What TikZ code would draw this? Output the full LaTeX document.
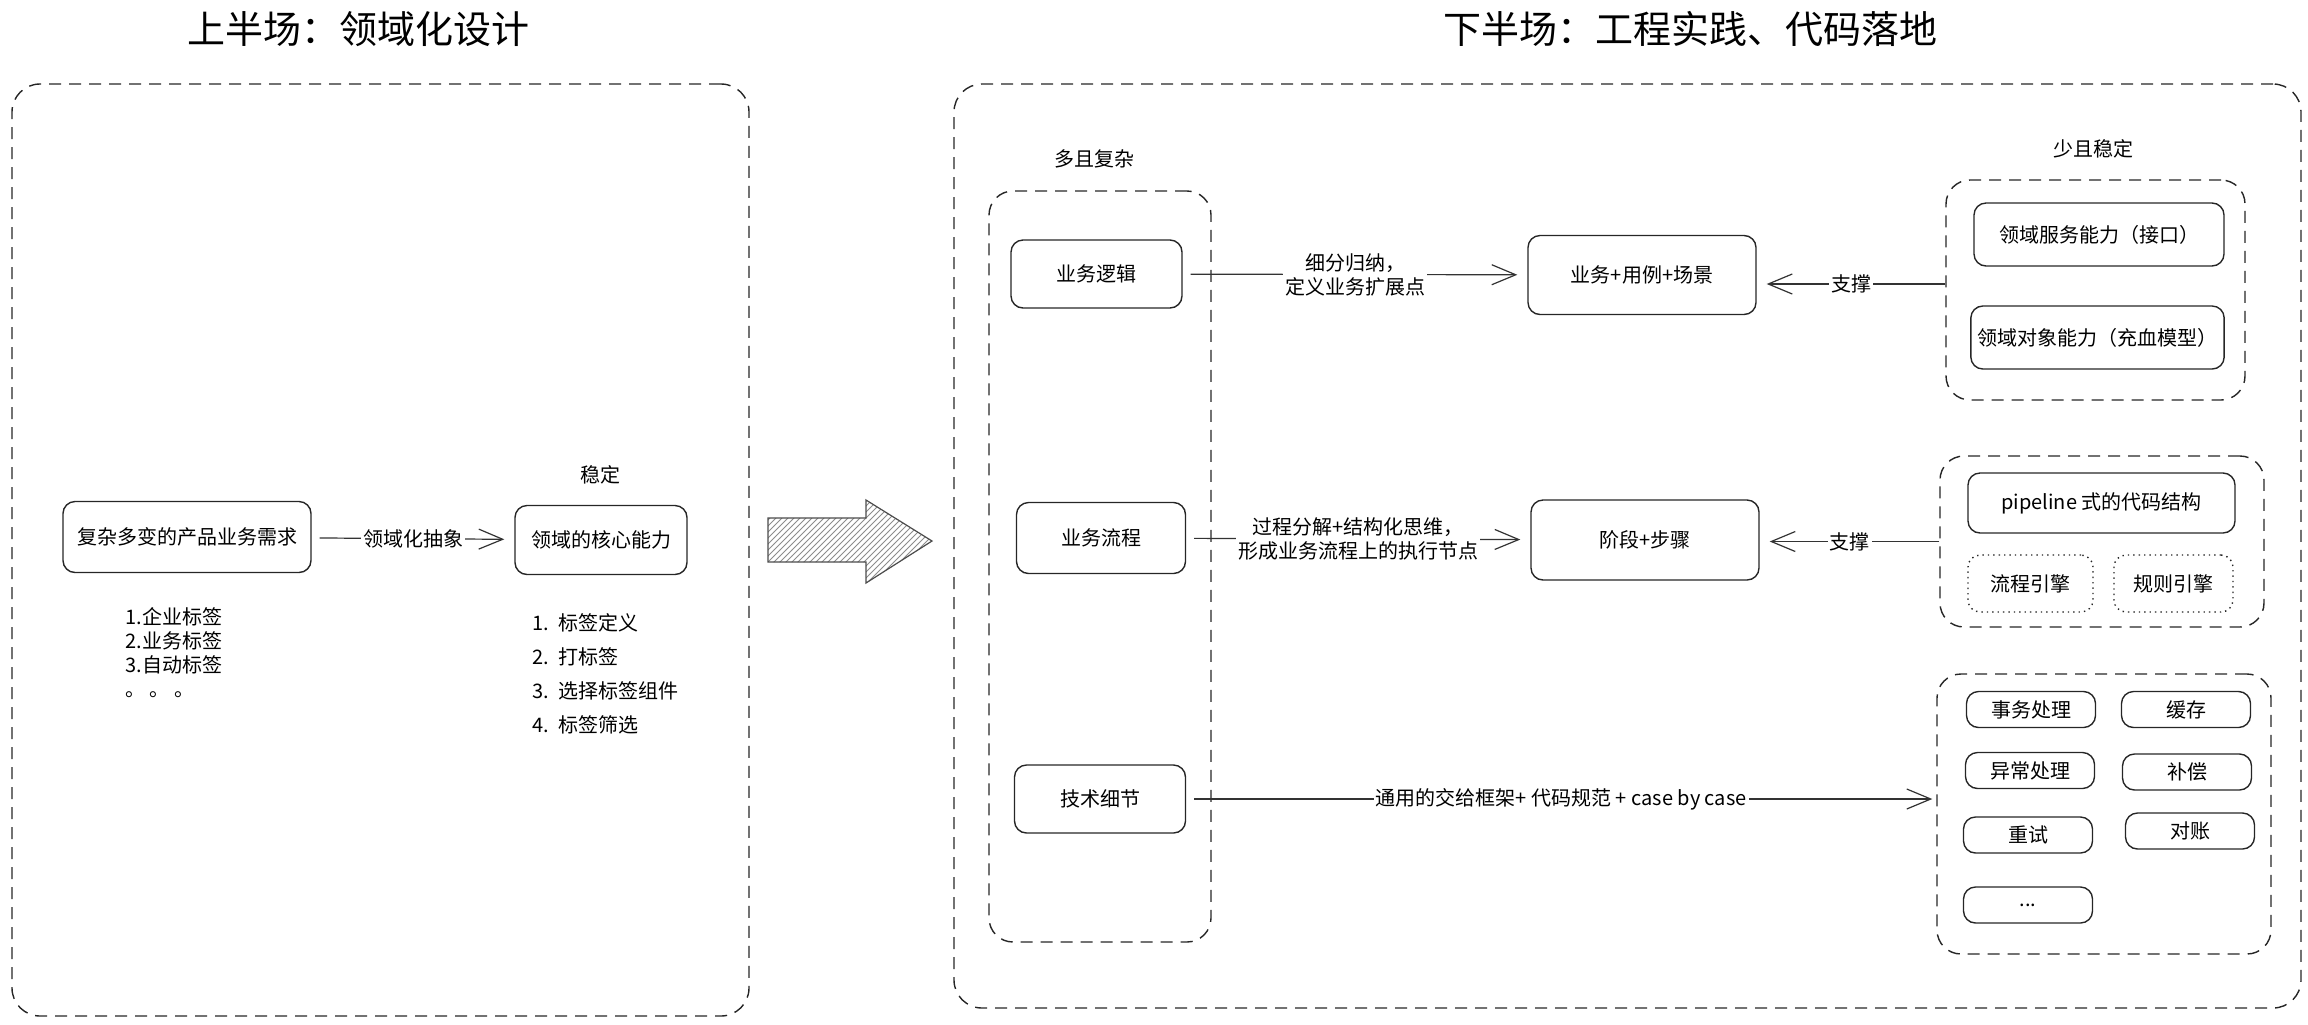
\documentclass[tikz,border=0pt]{standalone}
\usepackage{fontspec}
\setmainfont{Noto Sans CJK SC}
\usetikzlibrary{arrows.meta,patterns}
\tikzset{
  box/.style={draw=black!85, line width=0.7pt, rounded corners=6pt, align=center, font=\fontsize{10}{12}\selectfont},
  dotbox/.style={box, dotted},
  group/.style={draw=black!85, line width=0.7pt, dash pattern=on 6pt off 4pt, rounded corners=12pt},
  flow/.style={draw=black!80, line width=0.6pt, -{Straight Barb[length=12pt,width=10pt]}, shorten <=4pt, shorten >=5pt},
  lbl/.style={fill=white, inner sep=1pt, align=center, font=\fontsize{10}{12}\selectfont},
  tag/.style={font=\fontsize{10}{12}\selectfont},
  title/.style={font=\fontsize{19}{22}\selectfont}
}
\begin{document}
\begin{tikzpicture}[x=0.5pt, y=-0.5pt]
		\useasboundingbox (0,0) rectangle (2308,1024);
		% titles
		\node[title] (titleUp) at (358,29) {上半场：领域化设计};
		\node[title] (titleDown) at (1690,29) {下半场：工程实践、代码落地};
		% outer frames
		\node[group, rounded corners=14pt, minimum width=368.5pt, minimum height=466pt] (frameUp) at (380.5,550) {};
		\node[group, rounded corners=14pt, minimum width=673.5pt, minimum height=462pt] (frameDown) at (1627.5,546) {};
		% big hatched arrow
		\draw[draw=black!70, line width=0.6pt, pattern=north east lines, pattern color=black!45]
			(768,518) -- (866,518) -- (866,500) -- (932,541) -- (866,583) -- (866,562) -- (768,562) -- cycle;
		% upper half
		\node[box, minimum width=124pt, minimum height=35.5pt] (req) at (187,537) {复杂多变的产品业务需求};
		\node[box, minimum width=86pt, minimum height=34.5pt] (core) at (601,540) {领域的核心能力};
		\node[tag] (stable) at (600,475) {稳定};
		\draw[flow] (req) -- (core) node[lbl, midway] (lblAbs) {领域化抽象};
		\node[tag, anchor=north west, align=left, inner sep=0pt] (tagsReq) at (125,607) {1.企业标签\\2.业务标签\\3.自动标签\\。 。 。};
		\node[tag, anchor=north west, align=left, inner sep=0pt] (tagsCore) at (532,613) {1.\ \ 标签定义\\[5pt]2.\ \ 打标签\\[5pt]3.\ \ 选择标签组件\\[5pt]4.\ \ 标签筛选};
		% lower half: left column
		\node[tag] (many) at (1094,159) {多且复杂};
		\node[group, minimum width=111pt, minimum height=375.5pt] (colMany) at (1100,566.5) {};
		\node[box, minimum width=85.5pt, minimum height=34pt] (logic) at (1096.5,274) {业务逻辑};
		\node[box, minimum width=84.5pt, minimum height=35.5pt] (process) at (1101,538) {业务流程};
		\node[box, minimum width=85.5pt, minimum height=34pt] (tech) at (1100,799) {技术细节};
		% lower half: middle
		\node[box, minimum width=114pt, minimum height=39.5pt] (usecase) at (1642,275) {业务+用例+场景};
		\node[box, minimum width=114pt, minimum height=40pt] (stage) at (1645,540) {阶段+步骤};
		% lower half: right groups
		\node[tag] (few) at (2093,149) {少且稳定};
		\node[group, minimum width=149.5pt, minimum height=110pt] (grpStable) at (2095.5,290) {};
		\node[box, minimum width=125pt, minimum height=31.5pt] (svc) at (2099,234.5) {领域服务能力（接口）};
		\node[box, minimum width=125.5pt, minimum height=31.5pt] (obj) at (2097.5,337.5) {领域对象能力（充血模型）};
		\node[group, minimum width=162pt, minimum height=85.5pt] (grpPipe) at (2102,541.5) {};
		\node[box, minimum width=133.5pt, minimum height=30pt] (pipe) at (2101.5,503) {pipeline 式的代码结构};
		\node[dotbox, minimum width=62.5pt, minimum height=28.5pt] (engFlow) at (2030.5,583.5) {流程引擎};
		\node[dotbox, minimum width=59.5pt, minimum height=28.5pt] (engRule) at (2173.5,583.5) {规则引擎};
		\node[group, minimum width=167pt, minimum height=140pt] (grpTech) at (2104,814) {};
		\node[box, minimum width=64.5pt, minimum height=18pt] (txn) at (2031,709.5) {事务处理};
		\node[box, minimum width=64.5pt, minimum height=18pt] (cache) at (2186,709.5) {缓存};
		\node[box, minimum width=64.5pt, minimum height=18pt] (excep) at (2030,770.5) {异常处理};
		\node[box, minimum width=64.5pt, minimum height=18pt] (comp) at (2187,772) {补偿};
		\node[box, minimum width=64.5pt, minimum height=18pt] (retry) at (2028,835) {重试};
		\node[box, minimum width=64.5pt, minimum height=18pt] (recon) at (2190,831) {对账};
		\node[box, minimum width=64.5pt, minimum height=18pt] (more) at (2028,905) {...};
		% connectors
		\draw[flow] (logic) -- (usecase) node[lbl, midway] (lblSplit) {细分归纳，\\定义业务扩展点};
		\draw[flow] (process) -- (stage) node[lbl, midway] (lblStep) {过程分解+结构化思维，\\形成业务流程上的执行节点};
		\draw[flow, shorten <=0pt] ([yshift=3pt]grpStable.west) -- ([yshift=3pt]grpStable.west -| usecase.east) node[lbl, midway] (lblSup1) {支撑};
		\draw[flow, shorten <=0pt] (grpPipe.west) -- (grpPipe.west -| stage.east) node[lbl, midway] (lblSup2) {支撑};
		\draw[flow, shorten >=2pt] (tech.east) -- (tech.east -| grpTech.west) node[lbl, midway] (lblFrame) {通用的交给框架+ 代码规范 + case by case};
	\end{tikzpicture}
\end{document}
